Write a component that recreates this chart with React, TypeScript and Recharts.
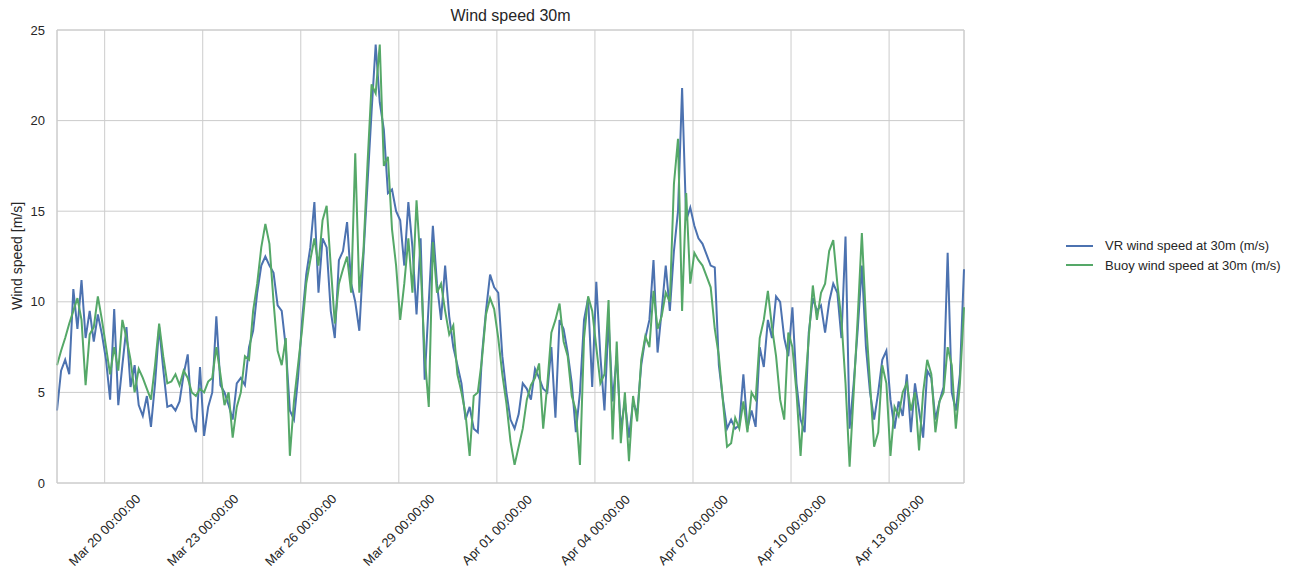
import React from "react";
import {
  LineChart,
  Line,
  XAxis,
  YAxis,
  CartesianGrid,
  ReferenceLine,
} from "recharts";

// ============================================================================
// Data (3-hourly samples, from Mar 18 13:00)
// ============================================================================

const START = Date.UTC(2016, 2, 18, 13);
const STEP_MS = 3 * 3600 * 1000;

const vrSpeed = [
  4.0, 6.2, 6.8, 6.0, 10.7, 8.5, 11.2, 8.0, 9.5, 7.8, 9.3, 8.2, 6.8, 4.6, 9.6, 4.3,
  6.5, 8.6, 5.3, 6.5, 4.3, 3.7, 4.8, 3.1, 5.5, 8.6, 6.3, 4.2, 4.3, 4.0, 4.5, 6.0,
  7.1, 3.6, 2.8, 6.4, 2.6, 4.2, 5.0, 9.2, 5.4, 5.0, 4.3, 3.5, 5.5, 5.8, 5.4, 7.5,
  8.4, 10.5, 12.0, 12.5, 12.0, 11.6, 9.8, 9.5, 7.5, 4.0, 3.5, 5.8, 9.0, 11.5, 13.0, 15.5,
  10.5, 13.5, 13.0, 9.5, 8.0, 12.3, 12.8, 14.4, 11.0, 10.0, 8.4, 12.5, 16.5, 20.5, 24.2, 21.0,
  19.5, 16.0, 16.2, 15.0, 14.5, 12.0, 15.5, 13.0, 9.3, 13.5, 5.7, 10.0, 14.2, 11.0, 9.0, 12.0,
  9.2, 7.5, 6.5, 5.5, 3.5, 4.2, 3.0, 2.8, 7.0, 9.5, 11.5, 10.8, 10.5, 7.0, 5.0, 3.5,
  3.0, 3.8, 5.5, 5.2, 4.6, 6.3, 5.8, 5.2, 5.0, 7.5, 3.6, 9.0, 8.5, 7.2, 5.5, 2.8,
  5.0, 9.0, 10.2, 5.3, 11.1, 7.0, 4.0, 9.0, 4.5, 7.0, 3.0, 4.5, 2.5, 4.5, 3.8, 6.5,
  8.0, 9.0, 12.3, 7.2, 9.5, 12.0, 9.5, 12.8, 15.0, 21.8, 14.5, 15.2, 14.2, 13.5, 13.2, 12.6,
  12.0, 11.9, 6.5, 4.6, 3.0, 3.5, 3.0, 3.2, 6.0, 3.0, 4.0, 3.1, 7.5, 6.4, 9.0, 8.0,
  10.3, 10.0, 8.0, 7.0, 9.7, 5.5, 3.5, 2.8, 8.3, 10.2, 9.5, 9.8, 8.3, 10.0, 11.0, 10.5,
  8.0, 13.6, 3.0, 5.5, 8.5, 12.0, 7.5, 5.0, 3.5, 5.0, 6.8, 7.3, 4.6, 3.0, 4.5, 3.7,
  6.0, 2.8, 5.5, 4.0, 2.5, 6.2, 5.8, 3.5, 4.5, 5.3, 12.7, 5.0, 4.0, 6.0, 11.8,
];

const buoySpeed = [
  6.5, 7.3, 8.0, 8.8, 9.5, 10.2, 9.0, 5.4, 8.2, 8.6, 10.3, 9.0, 7.5, 6.0, 7.5, 6.2,
  9.0, 8.0, 6.8, 5.0, 6.3, 5.8, 5.2, 4.6, 6.5, 8.8, 7.0, 5.5, 5.6, 6.0, 5.4, 6.2,
  5.8, 5.0, 4.8, 5.2, 5.0, 5.6, 5.8, 7.5, 6.0, 4.3, 5.0, 2.5, 4.2, 5.0, 7.0, 6.8,
  9.5, 11.0, 13.0, 14.3, 13.2, 10.0, 7.3, 6.5, 8.0, 1.5, 4.5, 6.5, 8.5, 11.0, 12.3, 13.5,
  12.0, 14.5, 15.3, 12.0, 8.8, 11.0, 11.8, 12.5, 10.5, 18.2, 10.5, 12.8, 17.6, 22.0, 21.5, 24.2,
  17.5, 18.0, 14.0, 12.0, 9.0, 11.0, 13.5, 10.5, 15.6, 12.0, 7.0, 4.2, 13.3, 10.5, 11.0, 9.5,
  8.2, 8.7, 6.0, 5.0, 3.8, 1.5, 4.8, 5.0, 6.8, 9.3, 10.2, 9.6, 8.0, 6.0, 4.4, 2.3,
  1.0, 2.0, 3.0, 4.6, 5.4, 5.8, 6.6, 3.0, 5.4, 8.3, 9.0, 9.9, 7.8, 7.0, 4.8, 4.0,
  1.0, 8.0, 10.3, 9.5, 7.5, 5.5, 6.0, 10.1, 2.4, 7.8, 2.2, 5.0, 1.2, 4.8, 3.4, 6.8,
  8.1, 7.5, 10.6, 8.5, 9.2, 10.5, 10.0, 16.5, 19.0, 9.5, 16.0, 11.0, 12.7, 12.3, 12.0, 11.4,
  10.8, 8.5, 7.0, 4.5, 2.0, 2.2, 3.6, 3.0, 4.5, 2.8, 5.0, 4.6, 8.0, 9.0, 10.6, 8.6,
  7.0, 4.6, 3.5, 8.3, 7.5, 5.0, 1.5, 5.0, 8.0, 10.9, 9.0, 10.5, 11.0, 12.8, 13.4, 11.0,
  9.0, 5.5, 0.9, 5.0, 9.2, 13.8, 9.0, 5.5, 2.0, 2.8, 6.5, 5.5, 1.5, 4.2, 3.7, 5.0,
  5.5, 4.0, 5.0, 1.8, 5.0, 6.8, 6.0, 2.8, 4.5, 5.0, 7.5, 6.5, 3.0, 5.5, 9.7,
];

const tickDays = [
  "2016-03-20", "2016-03-23", "2016-03-26", "2016-03-29", "2016-04-01",
  "2016-04-04", "2016-04-07", "2016-04-10", "2016-04-13",
];

const tickLabels = [
  "Mar 20 00:00:00", "Mar 23 00:00:00", "Mar 26 00:00:00", "Mar 29 00:00:00",
  "Apr 01 00:00:00", "Apr 04 00:00:00", "Apr 07 00:00:00", "Apr 10 00:00:00",
  "Apr 13 00:00:00",
];

const yTicks = [0, 5, 10, 15, 20, 25];

// ============================================================================
// Derived
// ============================================================================

const data = vrSpeed.map((v, i) => ({
  t: START + i * STEP_MS,
  vr: v,
  buoy: buoySpeed[i],
}));

const END = START + (vrSpeed.length - 1) * STEP_MS;
const tickValues = tickDays.map((d) => Date.parse(d + "T00:00:00Z"));

const FONT = "'Liberation Sans', Arial, sans-serif";
const TEXT = "#262626";
const GRID = "#cccccc";
const BLUE = "#4C72B0";
const GREEN = "#55A868";

function DateTick({ x, y, payload }: any) {
  const idx = tickValues.indexOf(payload.value);
  const label = idx >= 0 ? tickLabels[idx] : "";
  const cy = y + 39;
  return (
    <text
      x={x}
      y={cy}
      transform={`rotate(-45, ${x}, ${cy})`}
      textAnchor="middle"
      dominantBaseline="central"
      fontSize={13}
      fontFamily={FONT}
      fill={TEXT}
    >
      {label}
    </text>
  );
}

export default function App() {
  return (
    <div
      style={{
        position: "absolute",
        left: 0,
        top: 0,
        width: 1291,
        height: 569,
        background: "#ffffff",
        fontFamily: FONT,
      }}
    >
      <div
        style={{
          position: "absolute",
          left: 57,
          width: 907,
          top: 7,
          textAlign: "center",
          fontSize: 16,
          color: TEXT,
        }}
      >
        Wind speed 30m
      </div>

      <div
        style={{
          position: "absolute",
          left: 17,
          top: 256,
          transform: "translate(-50%, -50%) rotate(-90deg)",
          whiteSpace: "nowrap",
          fontSize: 14,
          color: TEXT,
        }}
      >
        Wind speed [m/s]
      </div>

      <LineChart
        width={1291}
        height={569}
        data={data}
        margin={{ top: 30, right: 327, bottom: 0, left: 0 }}
      >
        <CartesianGrid stroke={GRID} strokeWidth={1} />
        <XAxis
          dataKey="t"
          type="number"
          domain={[START, END]}
          ticks={tickValues}
          interval={0}
          tick={<DateTick />}
          tickLine={false}
          axisLine={{ stroke: GRID }}
          height={86}
        />
        <YAxis
          domain={[0, 25]}
          ticks={yTicks}
          width={57}
          tickLine={false}
          axisLine={{ stroke: GRID }}
          tickSize={6}
          tickMargin={6}
          tick={{ fontSize: 13, fill: TEXT, fontFamily: FONT }}
        />
        <ReferenceLine x={END} stroke={GRID} />
        <ReferenceLine y={25} stroke={GRID} />
        <Line
          type="linear"
          dataKey="vr"
          stroke={BLUE}
          strokeWidth={2}
          dot={false}
          activeDot={false}
          isAnimationActive={false}
        />
        <Line
          type="linear"
          dataKey="buoy"
          stroke={GREEN}
          strokeWidth={2}
          dot={false}
          activeDot={false}
          isAnimationActive={false}
        />
      </LineChart>

      <div style={{ position: "absolute", left: 1066, top: 236, fontSize: 13, color: TEXT }}>
        {[
          { name: "VR wind speed at 30m (m/s)", color: BLUE },
          { name: "Buoy wind speed at 30m (m/s)", color: GREEN },
        ].map((item) => (
          <div key={item.name} style={{ display: "flex", alignItems: "center", height: 19.5 }}>
            <span
              style={{
                display: "inline-block",
                width: 27,
                height: 2,
                background: item.color,
                marginRight: 12,
              }}
            />
            <span>{item.name}</span>
          </div>
        ))}
      </div>
    </div>
  );
}
